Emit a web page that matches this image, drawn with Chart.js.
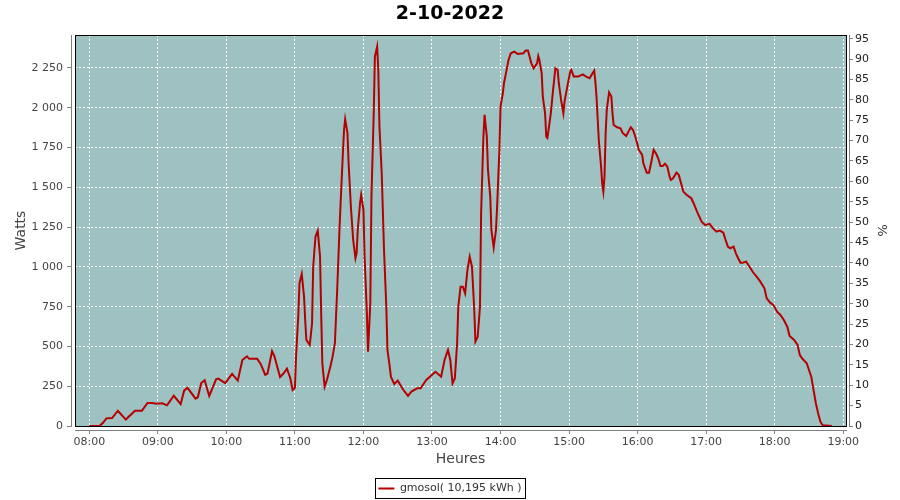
<!DOCTYPE html>
<html>
<head>
<meta charset="utf-8">
<script src="https://cdn.jsdelivr.net/npm/chart.js@4.4.1/dist/chart.umd.min.js"></script>
<style>
    body { margin: 0; background: #fff; }
    canvas { display: block; }
</style>
</head>
<body>
<canvas id="line-chart" width="900" height="500"></canvas>
<script>
var heures = [
    "08:00", "08:09", "08:12", "08:15", "08:20", "08:25", "08:32", "08:34", "08:40", "08:46",
    "08:51", "08:55", "08:59", "09:04", "09:08", "09:14", "09:20", "09:23", "09:26", "09:33",
    "09:35", "09:38", "09:41", "09:45", "09:51", "09:53", "09:59", "10:05", "10:10", "10:14",
    "10:18", "10:20", "10:27", "10:30", "10:34", "10:36", "10:40", "10:42", "10:47", "10:50",
    "10:53", "10:56", "10:58", "11:00", "11:01", "11:03", "11:04", "11:06", "11:08", "11:09",
    "11:10", "11:13", "11:15", "11:16", "11:18", "11:20", "11:22", "11:23", "11:24", "11:26",
    "11:28", "11:31", "11:33", "11:35", "11:37", "11:39", "11:40", "11:42", "11:43", "11:44",
    "11:46", "11:47", "11:49", "11:51", "11:53", "11:54", "11:55", "11:57", "11:58", "12:00",
    "12:01", "12:03", "12:04", "12:06", "12:07", "12:09", "12:10", "12:12", "12:13", "12:14",
    "12:16", "12:18", "12:20", "12:21", "12:23", "12:24", "12:27", "12:30", "12:35", "12:39",
    "12:42", "12:47", "12:50", "12:55", "13:03", "13:08", "13:11", "13:14", "13:16", "13:18",
    "13:20", "13:22", "13:23", "13:25", "13:27", "13:29", "13:31", "13:33", "13:35", "13:37",
    "13:38", "13:40", "13:42", "13:43", "13:45", "13:46", "13:48", "13:49", "13:51", "13:52",
    "13:54", "13:56", "13:57", "13:59", "14:00", "14:02", "14:03", "14:05", "14:07", "14:09",
    "14:12", "14:15", "14:20", "14:22", "14:24", "14:27", "14:29", "14:32", "14:33", "14:34",
    "14:36", "14:37", "14:39", "14:40", "14:41", "14:42", "14:44", "14:46", "14:48", "14:50",
    "14:51", "14:53", "14:55", "14:56", "14:59", "15:01", "15:02", "15:04", "15:08", "15:12",
    "15:15", "15:18", "15:20", "15:22", "15:23", "15:24", "15:25", "15:26", "15:27", "15:28",
    "15:29", "15:30", "15:31", "15:32", "15:33", "15:35", "15:37", "15:38", "15:39", "15:42",
    "15:45", "15:47", "15:50", "15:52", "15:54", "15:56", "15:58", "16:00", "16:01", "16:04",
    "16:05", "16:08", "16:10", "16:12", "16:14", "16:16", "16:18", "16:20", "16:22", "16:24",
    "16:26", "16:28", "16:29", "16:31", "16:34", "16:36", "16:38", "16:40", "16:43", "16:47",
    "16:49", "16:52", "16:54", "16:56", "16:59", "17:03", "17:06", "17:09", "17:12", "17:15",
    "17:17", "17:19", "17:21", "17:24", "17:26", "17:28", "17:30", "17:32", "17:35", "17:38",
    "17:41", "17:44", "17:47", "17:51", "17:53", "17:56", "17:59", "18:02", "18:05", "18:08",
    "18:11", "18:13", "18:17", "18:20", "18:22", "18:24", "18:28", "18:30", "18:32", "18:34",
    "18:36", "18:38", "18:40", "18:42", "18:50"
];
var watts = [
    0, 0, 20, 48, 50, 96, 40, 55, 96, 96,
    145, 145, 140, 143, 130, 190, 137, 222, 240, 172,
    180, 270, 287, 189, 293, 298, 270, 327, 285, 415,
    438, 422, 422, 390, 322, 330, 470, 440, 308, 330,
    360, 300, 226, 240, 436, 700, 897, 955, 813, 666,
    541, 509, 645, 1001, 1190, 1228, 1064, 708, 394, 247,
    289, 373, 436, 520, 855, 1232, 1400, 1714, 1860, 1928,
    1840, 1651, 1378, 1169, 1054, 1085, 1232, 1400, 1452, 1358,
    1064, 708, 467, 771, 1441, 1965, 2321, 2384, 2237, 1881,
    1588, 1106, 750, 478, 373, 310, 264, 285, 226, 189,
    216, 237, 237, 289, 341, 310, 415, 478, 415, 268,
    300, 520, 750, 875, 875, 834, 980, 1064, 1001, 729,
    530, 561, 750, 1337, 1818, 1955, 1818, 1609, 1441, 1232,
    1123, 1232, 1378, 1735, 2007, 2091, 2154, 2227, 2300, 2342,
    2352, 2338, 2342, 2359, 2359, 2279, 2248, 2279, 2325, 2300,
    2217, 2070, 1965, 1818, 1810, 1860, 1965, 2112, 2248, 2237,
    2154, 2049, 1965, 2038, 2154, 2227, 2237, 2196, 2196, 2210,
    2196, 2185, 2210, 2233, 2164, 2070, 1934, 1797, 1714, 1630,
    1525, 1473, 1567, 1840, 1986, 2096, 2070, 1965, 1892, 1877,
    1871, 1840, 1823, 1850, 1877, 1860, 1818, 1766, 1735, 1703,
    1651, 1592, 1592, 1661, 1735, 1714, 1682, 1634, 1634, 1648,
    1630, 1567, 1546, 1557, 1592, 1578, 1525, 1473, 1452, 1431,
    1400, 1347, 1316, 1284, 1263, 1270, 1242, 1221, 1228, 1215,
    1169, 1127, 1117, 1127, 1085, 1054, 1026, 1026, 1033, 1001,
    966, 940, 912, 865, 802, 775, 760, 718, 698, 666,
    624, 566, 541, 509, 446, 425, 394, 352, 310, 226,
    143, 80, 27, 4, 0
];
var heuresTicks = ["08:00", "09:00", "10:00", "11:00", "12:00", "13:00",
                   "14:00", "15:00", "16:00", "17:00", "18:00", "19:00"];
var wattsTicks = [0, 250, 500, 750, 1000, 1250, 1500, 1750, 2000, 2250];

var titre = "2-10-2022";
var serieLabel = "gmosol( 10,195 kWh )";

function toMin(h) {
    var p = h.split(":");
    return parseInt(p[0], 10) * 60 + parseInt(p[1], 10);
}
function pad(n) {
    return (n < 10 ? "0" : "") + n;
}
function fmtWatts(v) {
    if (v < 1000) return String(v);
    var r = v % 1000;
    return Math.floor(v / 1000) + " " + (r < 10 ? "00" : r < 100 ? "0" : "") + r;
}

// fond du graphe, cadre noir et axes decales
var cadre = {
    id: 'cadre',
    beforeDraw: function (chart) {
        var ctx = chart.ctx, a = chart.chartArea;
        ctx.save();
        ctx.fillStyle = "#9EC2C2";
        ctx.fillRect(a.left, a.top, a.right - a.left, a.bottom - a.top);
        ctx.restore();
    },
    afterDraw: function (chart) {
        var ctx = chart.ctx, a = chart.chartArea;
        ctx.save();
        ctx.fillStyle = "#fff";
        ctx.fillRect(a.left - 3, a.top, 3, a.bottom - a.top + 4);
        ctx.fillRect(a.left - 4, a.bottom + 1, a.right - a.left + 8, 3);
        ctx.fillRect(a.right + 1, a.top, 2, a.bottom - a.top + 4);

        ctx.strokeStyle = "#808080";
        ctx.lineWidth = 1;
        ctx.beginPath();
        ctx.moveTo(a.left - 3.5, a.top);
        ctx.lineTo(a.left - 3.5, a.bottom + 1);
        ctx.moveTo(a.left, a.bottom + 4.5);
        ctx.lineTo(a.right + 1, a.bottom + 4.5);
        ctx.moveTo(a.right + 3.5, a.top);
        ctx.lineTo(a.right + 3.5, a.bottom + 1);
        ctx.stroke();

        ctx.strokeStyle = "#000";
        ctx.strokeRect(a.left + 0.5, a.top + 0.5, a.right - a.left, a.bottom - a.top);

        var hb = chart.legend && chart.legend.legendHitBoxes && chart.legend.legendHitBoxes[0];
        if (hb) {
            ctx.strokeRect(Math.round(hb.left - 3) + 0.5, Math.round(hb.top - 5) + 0.5,
                Math.round(hb.width + 7), Math.round(hb.height + 9));
        }
        ctx.restore();
    }
};

Chart.defaults.font.family = "'DejaVu Sans', sans-serif";

var points = heures.map(function (h, i) {
    return { x: toMin(h), y: watts[i] };
});

var grille = {
    color: "#fff",
    lineWidth: 1,
    tickColor: "#808080",
    tickLength: 8,
    tickBorderDash: []
};

new Chart(document.getElementById("line-chart"), {
    type: 'line',
    data: {
        datasets: [{
            label: serieLabel,
            data: points,
            borderColor: "#B40000",
            backgroundColor: "#B40000",
            borderWidth: 2,
            pointRadius: 0,
            tension: 0,
            fill: false,
            yAxisID: 'y'
        }]
    },
    options: {
        responsive: false,
        animation: false,
        layout: { padding: { left: 0, right: 0, top: 0, bottom: -4 } },
        plugins: {
            title: {
                display: true,
                text: titre,
                color: "#000",
                font: { size: 19, weight: 'bold' },
                padding: { top: 3, bottom: 9.2 }
            },
            legend: {
                position: 'bottom',
                labels: {
                    usePointStyle: true,
                    pointStyle: 'line',
                    pointStyleWidth: 16,
                    padding: 6,
                    color: "#333",
                    font: { size: 11 }
                }
            },
            tooltip: { enabled: false }
        },
        scales: {
            x: {
                type: 'linear',
                position: 'bottom',
                min: 467.5,
                max: 1142.4,
                afterBuildTicks: function (scale) {
                    scale.ticks = heuresTicks.map(function (h) { return { value: toMin(h) }; });
                },
                afterFit: function (scale) { scale.height = 51; },
                grid: grille,
                border: { display: false, dash: [2, 2] },
                ticks: {
                    color: "#444",
                    font: { size: 11 },
                    padding: 2,
                    maxRotation: 0,
                    autoSkip: false,
                    callback: function (v) {
                        return pad(Math.floor(v / 60)) + ":" + pad(v % 60);
                    }
                },
                title: {
                    display: true,
                    text: "Heures",
                    color: "#444",
                    font: { size: 14 },
                    padding: { top: 0, bottom: 9 }
                }
            },
            y: {
                type: 'linear',
                position: 'left',
                min: 0,
                max: 2457,
                afterBuildTicks: function (scale) {
                    scale.ticks = wattsTicks.map(function (v) { return { value: v }; });
                },
                afterFit: function (scale) { scale.width = 75; },
                grid: grille,
                border: { display: false, dash: [2, 2] },
                ticks: {
                    color: "#444",
                    font: { size: 11 },
                    padding: 4,
                    callback: function (v) { return fmtWatts(v); }
                },
                title: {
                    display: true,
                    text: "Watts",
                    color: "#444",
                    font: { size: 14 },
                    padding: { top: 12.6, bottom: 0 }
                }
            },
            pct: {
                type: 'linear',
                position: 'right',
                min: 0,
                max: 95.9,
                afterFit: function (scale) { scale.width = 54; },
                grid: {
                    drawOnChartArea: false,
                    tickColor: "#808080",
                    tickLength: 7,
                    tickBorderDash: []
                },
                border: { display: false },
                ticks: {
                    stepSize: 5,
                    includeBounds: false,
                    color: "#222",
                    font: { size: 11 },
                    padding: 2
                },
                title: {
                    display: true,
                    text: "%",
                    color: "#333",
                    font: { size: 13 },
                    padding: { top: 11, bottom: 0 }
                }
            }
        }
    },
    plugins: [cadre]
});
</script>
</body>
</html>
